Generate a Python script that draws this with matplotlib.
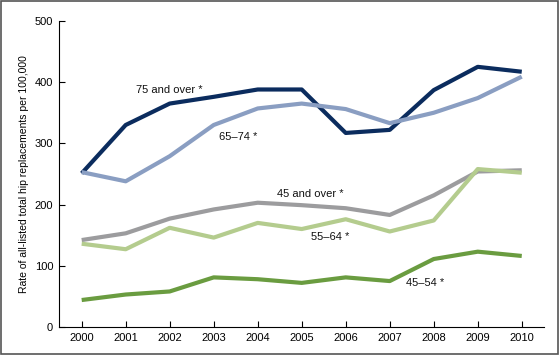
import matplotlib
matplotlib.use("Agg")
import matplotlib.pyplot as plt
from matplotlib.patches import Rectangle

plt.rcParams['font.family'] = ['Liberation Sans', 'DejaVu Sans']

# Rates of all-listed total hip replacements per 100,000, by age group
years = list(range(2000, 2011))
age_75_over = [251, 330, 365, 376, 388, 388, 317, 322, 387, 425, 417]
age_65_74 = [253, 238, 279, 330, 357, 365, 356, 333, 350, 374, 409]
age_45_over = [142, 153, 177, 192, 203, 199, 194, 183, 215, 254, 256]
age_55_64 = [136, 127, 162, 146, 170, 160, 176, 156, 174, 258, 252]
age_45_54 = [44, 53, 58, 81, 78, 72, 81, 75, 111, 123, 116]

series = [
    (age_75_over, '#0b2c5e', '75 and over *', 2002.0, 387),
    (age_65_74, '#8a9ec2', '65\u201374 *', 2003.55, 310),
    (age_45_over, '#9c9c9e', '45 and over *', 2005.2, 218),
    (age_55_64, '#b4cc8e', '55\u201364 *', 2005.65, 147),
    (age_45_54, '#6a9c40', '45\u201354 *', 2007.8, 72),
]

fig = plt.figure(figsize=(5.6, 3.55), dpi=100)
ax = fig.add_axes([0.105, 0.079, 0.866, 0.862])

for vals, color, label, lx, ly in series:
    ax.plot(years, vals, color=color, linewidth=3.0, solid_capstyle='butt')
    ax.text(lx, ly, label, fontsize=8, ha='center', va='center', color='#111111')

ax.set_xlim(1999.48, 2010.5)
ax.set_ylim(0, 500)
ax.set_xticks(years)
ax.set_yticks([0, 100, 200, 300, 400, 500])
ax.tick_params(direction='in', length=4, labelsize=8, width=0.8, pad=4)
ax.spines['top'].set_visible(False)
ax.spines['right'].set_visible(False)
ax.spines['left'].set_linewidth(0.8)
ax.spines['bottom'].set_linewidth(0.8)
ax.set_ylabel('Rate of all-listed total hip replacements per 100,000', fontsize=7.5)

# grey frame around the whole figure
fig.patches.append(Rectangle((0.002, 0.003), 0.995, 0.994, transform=fig.transFigure,
                             fill=False, edgecolor='#555555', linewidth=1.2))

fig.savefig('out.png', dpi=100)
